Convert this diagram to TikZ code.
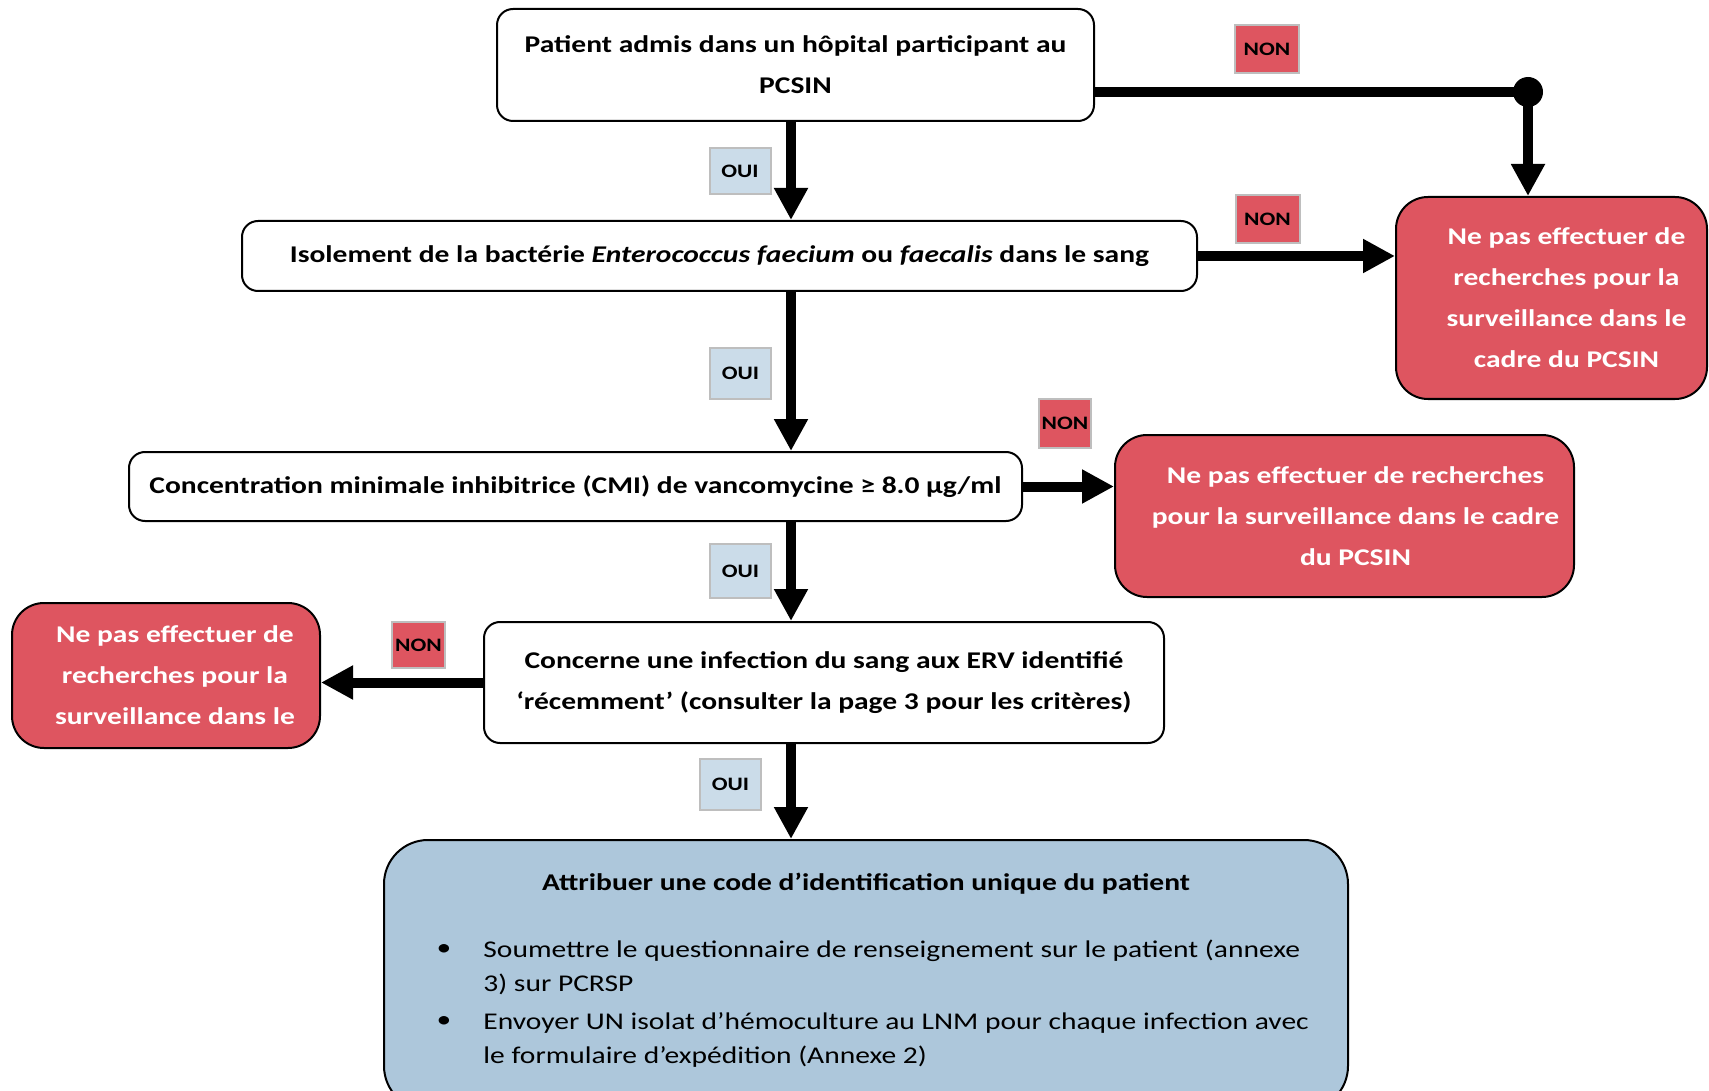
\documentclass[tikz,border=0pt]{standalone}
\usepackage{fontspec}
\setmainfont{Carlito}[FakeStretch=1.23]
\usetikzlibrary{arrows.meta}
\definecolor{nonred}{RGB}{222,85,96}
\definecolor{finblue}{RGB}{173,199,219}
\definecolor{ouiblue}{RGB}{203,220,233}
\definecolor{tagline}{RGB}{190,190,190}

\begin{document}
\begin{tikzpicture}[x=0.5pt, y=-0.5pt,
  question/.style={draw, line width=1pt, rounded corners=8pt, fill=white, align=center, inner sep=0pt, font=\fontsize{12}{20.5}\selectfont\bfseries},
  stopbox/.style={draw, line width=1pt, rounded corners=16pt, fill=nonred, text=white, align=center, inner sep=0pt, font=\fontsize{12}{20.5}\selectfont\bfseries},
  nontag/.style={draw=tagline, line width=1pt, fill=nonred, inner sep=0pt, font=\fontsize{9.5}{10}\selectfont\bfseries},
  ouitag/.style={draw=tagline, line width=1pt, fill=ouiblue, inner sep=0pt, font=\fontsize{9.5}{10}\selectfont\bfseries},
  flow/.style={line width=5pt, -{Triangle[length=16pt,width=16pt]}},
]
\useasboundingbox (0,0) rectangle (1709,1091);
\clip (0,0) rectangle (1709,1091);

\node[question, minimum width=298.5pt, minimum height=56pt] (patient) at (795.5,65)
  {Patient admis dans un hôpital participant au\\PCSIN};
\node[question, minimum width=477.5pt, minimum height=35pt] (isolement) at (719.5,256)
  {Isolement de la bactérie \textit{Enterococcus faecium} ou \textit{faecalis} dans le sang};
\node[question, minimum width=446.5pt, minimum height=34.5pt] (cmi) at (575.5,486.5)
  {Concentration minimale inhibitrice (CMI) de vancomycine ≥ 8.0 µg/ml};
\node[question, minimum width=340pt, minimum height=60.5pt] (erv) at (824,682.5)
  {Concerne une infection du sang aux ERV identifié\\‘récemment’ (consulter la page 3 pour les critères)};
\node[draw, line width=1pt, rounded corners=22pt, fill=finblue, minimum width=482pt, minimum height=135pt] (code) at (866,975) {};

\node[stopbox, minimum width=155.5pt, minimum height=101pt] (stopA) at (1551.5,298)
  {\hspace*{15pt}Ne pas effectuer de\\\hspace*{15pt}recherches pour la\\\hspace*{15pt}surveillance dans le\\\hspace*{15pt}cadre du PCSIN};
\node[stopbox, minimum width=229.5pt, minimum height=81pt] (stopB) at (1344.5,516)
  {\hspace*{11pt}Ne pas effectuer de recherches\\\hspace*{11pt}pour la surveillance dans le cadre\\\hspace*{11pt}du PCSIN};
\node[stopbox, minimum width=154pt, minimum height=72.5pt] (stopC) at (166,675.5)
  {\hspace*{9pt}Ne pas effectuer de\\\hspace*{9pt}recherches pour la\\\hspace*{9pt}surveillance dans le};

\node[font=\fontsize{12}{14}\selectfont\bfseries] (codetitle) at (866,884)
  {Attribuer une code d’identification unique du patient};
\node[font=\fontsize{12}{14}\selectfont] (dot1) at (444,950) {•};
\node[font=\fontsize{12}{14}\selectfont] (dot2) at (444,1022) {•};
\node[anchor=west, align=left, inner sep=0pt, font=\fontsize{12}{17}\selectfont] (item1) at (483,967)
  {Soumettre le questionnaire de renseignement sur le patient (annexe\\3) sur PCRSP};
\node[anchor=west, align=left, inner sep=0pt, font=\fontsize{12}{17}\selectfont] (item2) at (483,1040)
  {Envoyer UN isolat d’hémoculture au LNM pour chaque infection avec\\le formulaire d’expédition (Annexe 2)};

\node[nontag, minimum width=32pt, minimum height=24pt] (non1) at (1267,49) {NON};
\node[nontag, minimum width=32pt, minimum height=24pt] (non2) at (1267.5,219) {NON};
\node[nontag, minimum width=26pt, minimum height=24.5pt] (non3) at (1065,423.5) {NON};
\node[nontag, minimum width=26.5pt, minimum height=23pt] (non4) at (418.5,645) {NON};
\node[ouitag, minimum width=30.5pt, minimum height=23pt] (oui1) at (740,171) {OUI};
\node[ouitag, minimum width=30.5pt, minimum height=25.5pt] (oui2) at (740.5,373.5) {OUI};
\node[ouitag, minimum width=30.5pt, minimum height=27pt] (oui3) at (740.5,571) {OUI};
\node[ouitag, minimum width=30.5pt, minimum height=25.5pt] (oui4) at (730.5,784.5) {OUI};

\coordinate (spine) at (791,0);
\coordinate (fork) at (1528,92);
\draw[line width=5pt] (patient.east |- fork) -- (fork);
\fill (fork) circle[radius=7.5pt];
\draw[flow] (fork) -- (fork |- stopA.north);
\draw[flow] (spine |- patient.south) -- (spine |- isolement.north);
\draw[flow] (isolement.east) -- (isolement.east -| stopA.west);
\draw[flow] (spine |- isolement.south) -- (spine |- cmi.north);
\draw[flow] (cmi.east) -- (cmi.east -| stopB.west);
\draw[flow] (spine |- cmi.south) -- (spine |- erv.north);
\draw[flow] (erv.west) -- (erv.west -| stopC.east);
\draw[flow] (spine |- erv.south) -- (spine |- code.north);
\end{tikzpicture}
\end{document}
